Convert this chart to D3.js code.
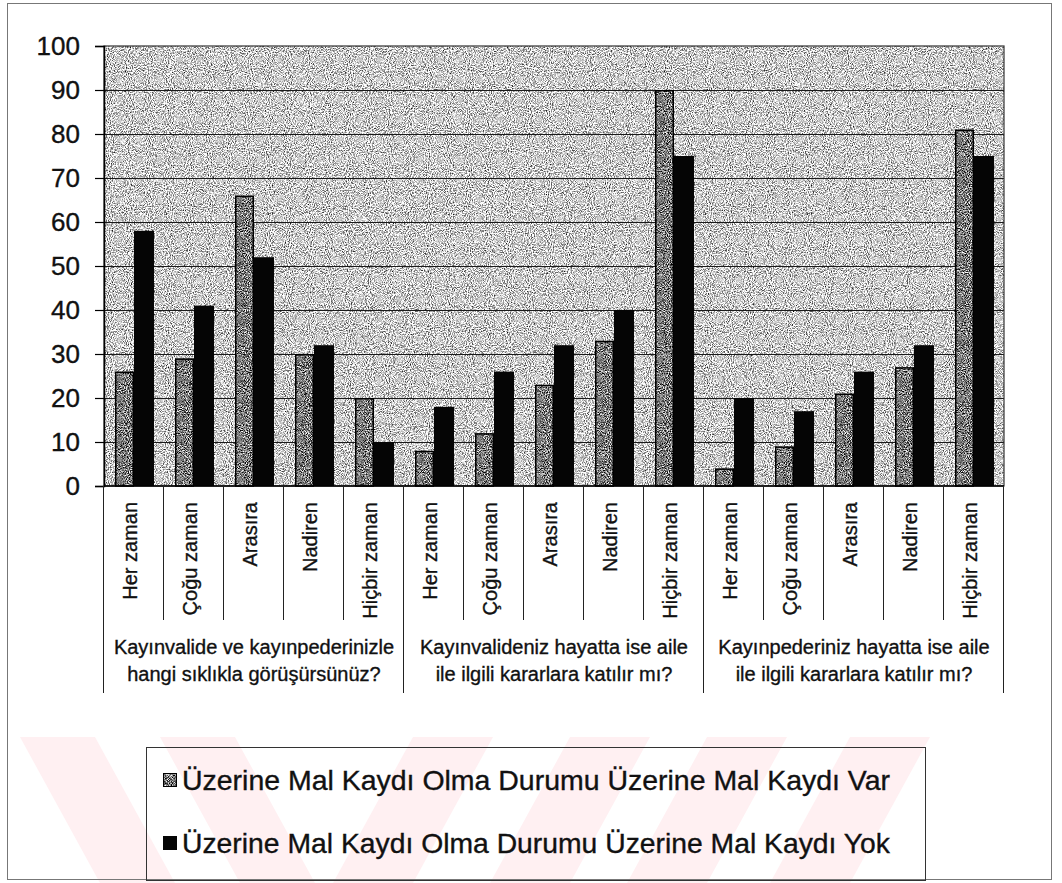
<!DOCTYPE html>
<html>
<head>
<meta charset="utf-8">
<script src="https://cdn.jsdelivr.net/npm/d3@7/dist/d3.min.js"></script>
<style>
  html, body { margin: 0; padding: 0; background: #ffffff; }
  svg { display: block; }
  text { font-family: "Liberation Sans", Arial, sans-serif; fill: #111; stroke: #111; stroke-width: 0.35px; }
</style>
</head>
<body>
<script>
// ---- data ----
const categories = ["Her zaman", "Çoğu zaman", "Arasıra", "Nadiren", "Hiçbir zaman"];
const groupLabels = [
  ["Kayınvalide ve kayınpederinizle", "hangi sıklıkla görüşürsünüz?"],
  ["Kayınvalideniz hayatta ise aile", "ile ilgili kararlara katılır mı?"],
  ["Kayınpederiniz hayatta ise aile", "ile ilgili kararlara katılır mı?"]
];
const seriesNames = [
  "Üzerine Mal Kaydı Olma Durumu Üzerine Mal Kaydı Var",
  "Üzerine Mal Kaydı Olma Durumu Üzerine Mal Kaydı Yok"
];
const varValues = [26, 29, 66, 30, 20, 8, 12, 23, 33, 90, 4, 9, 21, 27, 81];
const yokValues = [58, 41, 52, 32, 10, 18, 26, 32, 40, 75, 20, 17, 26, 32, 75];
const yTickValues = [0, 10, 20, 30, 40, 50, 60, 70, 80, 90, 100];

// ---- layout ----
const W = 1062, H = 883;
const plot = { left: 104, right: 1004, top: 46, bottom: 486 };

const svg = d3.select("body").append("svg").attr("width", W).attr("height", H);
const defs = svg.append("defs");

function noiseFilter(id, gain, offset, seed) {
  const f = defs.append("filter").attr("id", id)
    .attr("x", 0).attr("y", 0).attr("width", 1).attr("height", 1)
    .attr("filterUnits", "objectBoundingBox")
    .attr("color-interpolation-filters", "sRGB");
  f.append("feTurbulence").attr("type", "fractalNoise").attr("baseFrequency", 0.95)
    .attr("numOctaves", 2).attr("seed", seed).attr("result", "t");
  const g = gain, o = offset;
  f.append("feColorMatrix").attr("in", "t").attr("type", "matrix")
    .attr("values", `${g} 0 0 0 ${o}  ${g} 0 0 0 ${o}  ${g} 0 0 0 ${o}  0 0 0 0 1`)
    .attr("result", "g");
  f.append("feComposite").attr("in", "g").attr("in2", "SourceGraphic").attr("operator", "in");
}
noiseFilter("bgNoise", 2.0, -0.2, 3);
noiseFilter("barNoise", 2.2, -0.62, 7);

// ---- watermark (decorative, faint pink) ----
const wm = svg.append("g");
defs.append("clipPath").attr("id", "wmClip").append("rect")
  .attr("x", 18).attr("y", 737).attr("width", 925).attr("height", 146);
const wmg = wm.append("g").attr("clip-path", "url(#wmClip)");
const wmTop = 737, wmBot = 883, shift = 80;
const backStripes = [20, 160];
const fwdStripes = [413, 570, 707, 850];
backStripes.forEach(x => {
  wmg.append("polygon")
    .attr("points", `${x},${wmTop} ${x + 75},${wmTop} ${x + 75 + shift},${wmBot} ${x + shift},${wmBot}`)
    .attr("fill", "#fff0f2");
});
fwdStripes.forEach(x => {
  wmg.append("polygon")
    .attr("points", `${x},${wmTop} ${x + 80},${wmTop} ${x + 80 - shift},${wmBot} ${x - shift},${wmBot}`)
    .attr("fill", "#fff0f2");
});

// ---- outer frame ----
svg.append("rect").attr("x", 7.5).attr("y", 3.5).attr("width", 1044).attr("height", 876)
  .attr("fill", "none").attr("stroke", "#777").attr("stroke-width", 1);

// ---- scales ----
const y = d3.scaleLinear().domain([0, 100]).range([plot.bottom, plot.top]);
const x0 = d3.scaleBand().domain(d3.range(varValues.length)).range([plot.left, plot.right]).padding(0);
const x1 = d3.scaleBand().domain(["var", "yok"]).range([0, x0.bandwidth()]).paddingInner(0).paddingOuter(0.58);

// plot background
svg.append("rect").attr("x", plot.left).attr("y", plot.top)
  .attr("width", plot.right - plot.left).attr("height", plot.bottom - plot.top)
  .attr("fill", "#c0c0c0").attr("filter", "url(#bgNoise)");

// gridlines
svg.append("g").selectAll("line").data(yTickValues.filter(v => v > 0 && v < 100)).join("line")
  .attr("x1", plot.left).attr("x2", plot.right)
  .attr("y1", d => y(d) + 0.5).attr("y2", d => y(d) + 0.5)
  .attr("stroke", "#1a1a1a").attr("stroke-width", 1.2);

// plot border
svg.append("rect").attr("x", plot.left).attr("y", plot.top)
  .attr("width", plot.right - plot.left).attr("height", plot.bottom - plot.top)
  .attr("fill", "none").attr("stroke", "#333").attr("stroke-width", 1.2);

// bars
const barG = svg.append("g");
const rows = varValues.map((v, i) => ({ i, var: v, yok: yokValues[i] }));
rows.forEach(r => {
  const bx = x0(r.i);
  barG.append("rect")
    .attr("x", bx + x1("var")).attr("y", y(r.var))
    .attr("width", x1.bandwidth()).attr("height", y(0) - y(r.var))
    .attr("fill", "#777").attr("filter", "url(#barNoise)");
  barG.append("rect")
    .attr("x", bx + x1("var") + 0.75).attr("y", y(r.var) + 0.75)
    .attr("width", x1.bandwidth() - 1.5).attr("height", Math.max(0, y(0) - y(r.var) - 0.75))
    .attr("fill", "none").attr("stroke", "#000").attr("stroke-width", 1.5);
  barG.append("rect")
    .attr("x", bx + x1("yok")).attr("y", y(r.yok))
    .attr("width", x1.bandwidth() + 1).attr("height", y(0) - y(r.yok))
    .attr("fill", "#050505");
});

// y axis
const yAxis = d3.axisLeft(y).tickValues(yTickValues).tickSize(9).tickPadding(15);
const yg = svg.append("g").attr("transform", `translate(${plot.left},0)`).call(yAxis);
yg.select(".domain").attr("stroke", "#000").attr("stroke-width", 1.5);
yg.selectAll(".tick line").attr("stroke", "#000").attr("stroke-width", 1.2);
yg.selectAll(".tick text").attr("font-size", 26).attr("fill", "#111")
  .attr("font-family", "'Liberation Sans', Arial, sans-serif");

// x axis baseline
svg.append("line").attr("x1", plot.left).attr("x2", plot.right)
  .attr("y1", plot.bottom).attr("y2", plot.bottom)
  .attr("stroke", "#000").attr("stroke-width", 1.5);

// category separators
const bounds = d3.range(varValues.length + 1);
svg.append("g").selectAll("line").data(bounds).join("line")
  .attr("x1", d => (d < varValues.length ? x0(d) : plot.right) - 0.5)
  .attr("x2", d => (d < varValues.length ? x0(d) : plot.right) - 0.5)
  .attr("y1", plot.bottom)
  .attr("y2", d => d % categories.length === 0 ? 693 : 620)
  .attr("stroke", "#222").attr("stroke-width", 1);

// category labels (rotated)
svg.append("g").selectAll("text").data(rows).join("text")
  .attr("transform", d => `translate(${x0(d.i) + x0.bandwidth() / 2},502) rotate(-90)`)
  .attr("text-anchor", "end").attr("dy", "0.15em")
  .attr("font-size", 20)
  .text(d => categories[d.i % categories.length]);

// group labels
const gw = x0.bandwidth() * categories.length;
groupLabels.forEach((lines, gi) => {
  const cx = plot.left + gw * gi + gw / 2;
  lines.forEach((ln, li) => {
    svg.append("text").attr("x", cx).attr("y", 654 + li * 27)
      .attr("text-anchor", "middle").attr("font-size", 20).text(ln);
  });
});

// legend
svg.append("rect").attr("x", 146.5).attr("y", 747.5).attr("width", 779).attr("height", 133)
  .attr("fill", "none").attr("stroke", "#333").attr("stroke-width", 1);
const leg = svg.append("g");
const legBase = [790, 853];
seriesNames.forEach((name, k) => {
  const base = legBase[k];
  if (k === 0) {
    leg.append("rect").attr("x", 163).attr("y", base - 17).attr("width", 14).attr("height", 14)
      .attr("fill", "#777").attr("filter", "url(#barNoise)");
    leg.append("rect").attr("x", 163.5).attr("y", base - 16.5).attr("width", 13).attr("height", 13)
      .attr("fill", "none").attr("stroke", "#000").attr("stroke-width", 1);
  } else {
    leg.append("rect").attr("x", 163).attr("y", base - 17).attr("width", 14).attr("height", 14)
      .attr("fill", "#050505");
  }
  leg.append("text").attr("x", 182).attr("y", base).attr("font-size", 28).attr("textLength", 708)
    .attr("lengthAdjust", "spacingAndGlyphs").text(name);
});
</script>
</body>
</html>
